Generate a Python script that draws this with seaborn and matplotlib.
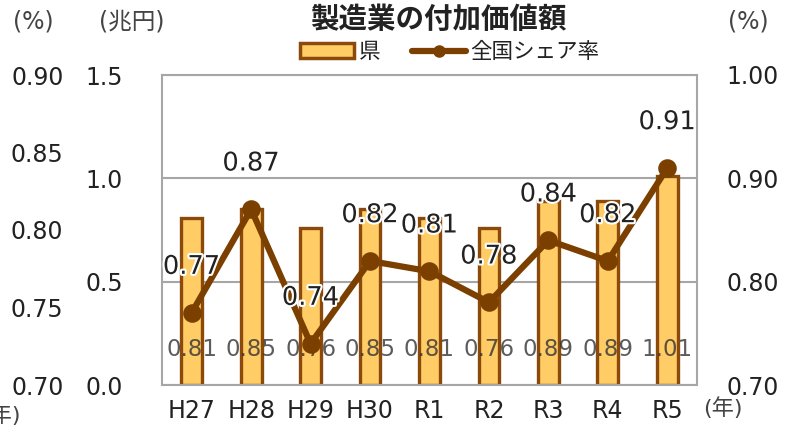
import matplotlib
matplotlib.use("Agg")
import matplotlib.pyplot as plt
import matplotlib.patheffects as pe
import seaborn as sns
import pandas as pd

# ---- data ----
years = ["H27", "H28", "H29", "H30", "R1", "R2", "R3", "R4", "R5"]
pref_value = [0.81, 0.85, 0.76, 0.85, 0.81, 0.76, 0.89, 0.89, 1.01]   # 兆円
share_rate = [0.77, 0.87, 0.74, 0.82, 0.81, 0.78, 0.84, 0.82, 0.91]   # %
left_ticks = [0.0, 0.5, 1.0, 1.5]
right_ticks = [0.70, 0.80, 0.90, 1.00]
far_left_ticks = [0.70, 0.75, 0.80, 0.85, 0.90]

sns.set_theme(style="white")
plt.rcParams["font.family"] = ["DejaVu Sans", "Noto Sans CJK JP"]

BAR_FACE = "#FFCC66"
BAR_EDGE = "#8B4A0B"
LINE_C = "#7B3F00"
GRID_C = "#A6A6A6"
TXT = "#222222"

df = pd.DataFrame({"year": years, "value": pref_value, "share": share_rate})

fig = plt.figure(figsize=(8.01, 4.36), dpi=100)
ax = fig.add_axes([162 / 801, 1 - 385 / 436, (697 - 162) / 801, (385 - 75) / 436])

sns.barplot(data=df, x="year", y="value", ax=ax, width=0.35, color=BAR_FACE,
            edgecolor=BAR_EDGE, linewidth=2.4, saturation=1, zorder=2)
ax.set_xlim(-0.5, 8.5)
ax.set_ylim(0, 1.5)
ax.set_yticks(left_ticks)
ax.set_yticklabels([f"{v:.1f}" for v in left_ticks])
ax.set_xlabel("")
ax.set_ylabel("")
ax.yaxis.grid(True, color=GRID_C, linewidth=1.5, zorder=0)
ax.set_axisbelow(True)
for s in ax.spines.values():
    s.set_color(GRID_C)
    s.set_linewidth(1.5)
ax.tick_params(axis="y", length=0, pad=28, labelsize=17, labelcolor=TXT)
ax.tick_params(axis="x", length=0, pad=10, labelsize=17, labelcolor=TXT)

# bar value labels near the base
for i, v in enumerate(pref_value):
    ax.text(i, 0.17, f"{v:.2f}", ha="center", va="center", fontsize=16.5,
            color="#333333", alpha=0.8, zorder=5)

# share line on right axis
ax2 = ax.twinx()
sns.pointplot(data=df, x="year", y="share", ax=ax2, color=LINE_C, markers="o",
              markersize=10, linewidth=4.5, errorbar=None)
ax2.set_xlim(-0.5, 8.5)
ax2.set_ylim(0.70, 1.00)
ax2.set_yticks(right_ticks)
ax2.set_yticklabels([f"{v:.2f}" for v in right_ticks])
ax2.set_ylabel("")
ax2.set_xlabel("")
for s in ax2.spines.values():
    s.set_visible(False)
ax2.tick_params(axis="y", length=0, pad=21, labelsize=17, labelcolor=TXT)
for i, v in enumerate(share_rate):
    ax2.annotate(f"{v:.2f}", (i, v), xytext=(0, 33), textcoords="offset points",
                 ha="center", va="center", fontsize=18.5, color=TXT,
                 path_effects=[pe.withStroke(linewidth=3, foreground="white")])

# far-left axis (cropped neighbouring scale)
ax3 = ax.twinx()
ax3.set_ylim(0.70, 0.90)
ax3.set_yticks(far_left_ticks)
ax3.set_yticklabels([f"{v:.2f}" for v in far_left_ticks])
for s in ax3.spines.values():
    s.set_visible(False)
ax3.tick_params(axis="y", length=0, pad=71, labelsize=17, labelcolor=TXT,
                left=False, right=False, labelleft=True, labelright=False)

# legend
bar_handle = plt.Rectangle((0, 0), 1, 1, facecolor=BAR_FACE, edgecolor=BAR_EDGE, linewidth=2.5)
line_handle = plt.Line2D([0], [0], color=LINE_C, linewidth=4.5, marker="o", markersize=8)
fig.legend([bar_handle, line_handle], ["県", "全国シェア率"], ncol=2, frameon=False,
           loc="center", bbox_to_anchor=(450 / 801, 1 - 52 / 436), fontsize=15.5,
           handlelength=2.5, handletextpad=0.2, columnspacing=1.5, labelcolor=TXT)

# titles / unit labels
fig.text(438 / 801, 1 - 20 / 436, "製造業の付加価値額", ha="center", va="center",
         fontsize=20.5, fontweight="bold", color=TXT)
fig.text(33 / 801, 1 - 22 / 436, "(%)", ha="center", va="center", fontsize=17, color="#444444")
fig.text(132 / 801, 1 - 22 / 436, "(兆円)", ha="center", va="center", fontsize=17, color="#444444")
fig.text(748 / 801, 1 - 22 / 436, "(%)", ha="center", va="center", fontsize=17, color="#444444")
fig.text(703 / 801, 1 - 408 / 436, "(年)", ha="left", va="center", fontsize=16, color="#444444")
fig.text(21 / 801, 1 - 415 / 436, "(年)", ha="right", va="center", fontsize=16, color="#444444")

fig.savefig("out.png", dpi=100)
